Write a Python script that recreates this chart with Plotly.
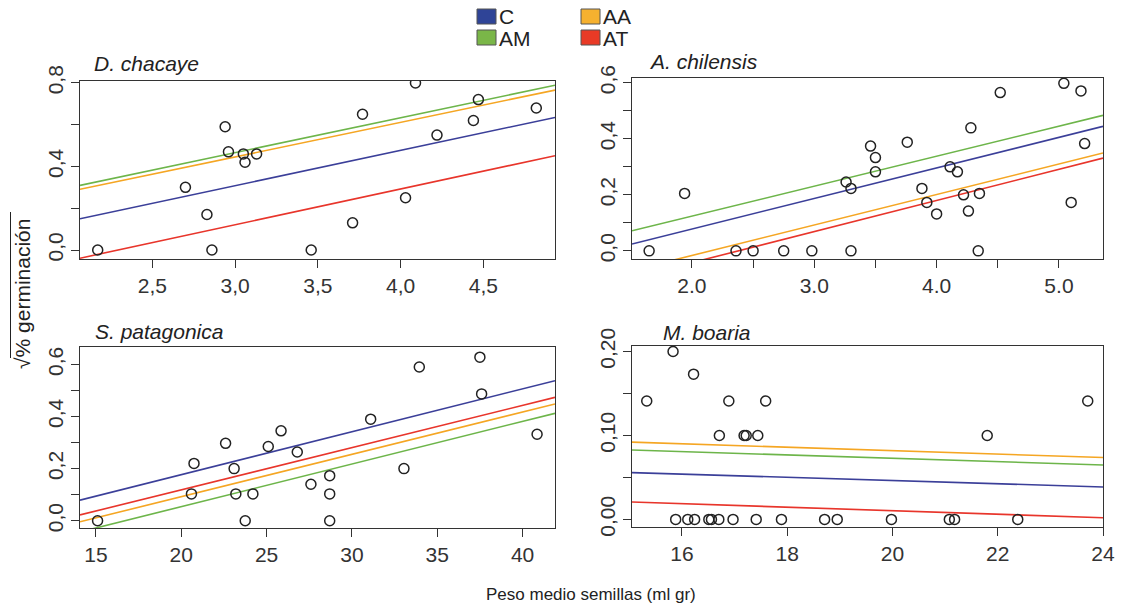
import plotly.graph_objects as go

W, H = 1128, 610

# ---------------- data ----------------
groups = ["C", "AA", "AM", "AT"]
group_colors = {"C": "#3b3f99", "AA": "#f5a623", "AM": "#6db54a", "AT": "#e8352b"}
legend_colors = {"C": "#2f4497", "AA": "#f6b12f", "AM": "#7ab648", "AT": "#e83a26"}

species = ["D. chacaye", "A. chilensis", "S. patagonica", "M. boaria"]

dc_x = [2.17, 2.70, 2.83, 2.86, 2.94, 2.96, 3.05, 3.06, 3.13, 3.46, 3.71, 3.77, 4.03, 4.09, 4.22, 4.44, 4.47, 4.82]
dc_y = [0.0, 0.30, 0.17, 0.0, 0.59, 0.47, 0.46, 0.42, 0.46, 0.0, 0.13, 0.65, 0.25, 0.80, 0.55, 0.62, 0.72, 0.68]

ac_x = [1.65, 1.94, 2.36, 2.50, 2.75, 2.98, 3.26, 3.30, 3.30, 3.46, 3.50, 3.50, 3.76, 3.88, 3.92, 4.00,
        4.11, 4.17, 4.22, 4.26, 4.28, 4.35, 4.34, 4.52, 5.04, 5.10, 5.18, 5.21]
ac_y = [0.0, 0.205, 0.0, 0.0, 0.0, 0.0, 0.246, 0.223, 0.0, 0.374, 0.333, 0.282, 0.388, 0.223, 0.173, 0.132,
        0.30, 0.282, 0.20, 0.142, 0.439, 0.205, 0.0, 0.565, 0.598, 0.173, 0.571, 0.383]

sp_x = [15.1, 20.6, 20.75, 22.6, 23.1, 23.2, 23.75, 24.2, 25.1, 25.85, 26.8, 27.6, 28.7, 28.7, 28.7,
        31.1, 33.05, 33.95, 37.5, 37.6, 40.85]
sp_y = [0.0, 0.103, 0.22, 0.297, 0.20, 0.103, 0.0, 0.103, 0.285, 0.345, 0.264, 0.14, 0.173, 0.103, 0.0,
        0.39, 0.20, 0.59, 0.628, 0.487, 0.332]

mb_x = [15.33, 15.83, 16.22, 16.89, 17.59, 16.71, 17.18, 17.22, 17.44, 21.80, 23.71,
        15.88, 16.11, 16.24, 16.51, 16.56, 16.70, 16.97, 17.41, 17.89, 18.71, 18.95, 19.98, 21.08, 21.18, 22.38]
mb_y = [0.141, 0.20, 0.173, 0.141, 0.141, 0.10, 0.10, 0.10, 0.10, 0.10, 0.141,
        0, 0, 0, 0, 0, 0, 0, 0, 0, 0, 0, 0, 0, 0, 0]

# fitted lines: (intercept, slope) per group, order C, AA, AM, AT
dc_fit = [(-0.199, 0.169), (-0.051, 0.1655), (-0.035, 0.167), (-0.392, 0.171)]
ac_fit = [(-0.140, 0.109), (-0.234, 0.1088), (-0.090, 0.107), (-0.264, 0.111)]
sp_fit = [(-0.153, 0.01648), (-0.233, 0.01626), (-0.2735, 0.01637), (-0.206, 0.01622)]
mb_fit = [(0.0845, -0.00191), (0.1229, -0.00205), (0.1128, -0.0020), (0.0522, -0.00209)]

# tick labels
dc_xticks = [2.5, 3.0, 3.5, 4.0, 4.5]
dc_xlabels = ["2,5", "3,0", "3,5", "4,0", "4,5"]
dc_yticks = [0.0, 0.2, 0.4, 0.6, 0.8]
dc_ylabels = ["0,0", "", "0,4", "", "0,8"]

ac_xticks = [2.0, 2.5, 3.0, 3.5, 4.0, 4.5, 5.0]
ac_xlabels = ["2.0", "", "3.0", "", "4.0", "", "5.0"]
ac_yticks = [0.0, 0.1, 0.2, 0.3, 0.4, 0.5, 0.6]
ac_ylabels = ["0,0", "", "0,2", "", "0,4", "", "0,6"]

sp_xticks = [15, 20, 25, 30, 35, 40]
sp_xlabels = ["15", "20", "25", "30", "35", "40"]
sp_yticks = [0.0, 0.1, 0.2, 0.3, 0.4, 0.5, 0.6]
sp_ylabels = ["0,0", "", "0,2", "", "0,4", "", "0,6"]

mb_xticks = [16, 18, 20, 22, 24]
mb_xlabels = ["16", "18", "20", "22", "24"]
mb_yticks = [0.0, 0.05, 0.10, 0.15, 0.20]
mb_ylabels = ["0,00", "", "0,10", "", "0,20"]

x_title = "Peso medio semillas (ml gr)"
y_title = "√% germinación"

# ---------------- layout geometry (pixels) ----------------
def px(x):
    return x / W

def py(y):
    return 1 - y / H

panels = [
    dict(name=species[0], x=dc_x, y=dc_y, fit=dc_fit, xt=dc_xticks, xl=dc_xlabels, yt=dc_yticks, yl=dc_ylabels,
         box=(80, 555, 81, 259), xr=[2.063, 4.933], yr=[-0.043, 0.809], title_pos=(92, 63)),
    dict(name=species[1], x=ac_x, y=ac_y, fit=ac_fit, xt=ac_xticks, xl=ac_xlabels, yt=ac_yticks, yl=ac_ylabels,
         box=(632, 1103, 78, 259), xr=[1.51, 5.36], yr=[-0.029, 0.617], title_pos=(647, 62)),
    dict(name=species[2], x=sp_x, y=sp_y, fit=sp_fit, xt=sp_xticks, xl=sp_xlabels, yt=sp_yticks, yl=sp_ylabels,
         box=(80, 555, 347, 528), xr=[14.07, 41.9], yr=[-0.028, 0.667], title_pos=(93, 331)),
    dict(name=species[3], x=mb_x, y=mb_y, fit=mb_fit, xt=mb_xticks, xl=mb_xlabels, yt=mb_yticks, yl=mb_ylabels,
         box=(632, 1103, 346, 527), xr=[15.05, 24.0], yr=[-0.009, 0.2065], title_pos=(661, 332)),
]

fig = go.Figure()
layout = dict(width=W, height=H, margin=dict(l=0, r=0, t=0, b=0, pad=0, autoexpand=False),
              paper_bgcolor="white", plot_bgcolor="white", showlegend=False, autosize=False)
annotations = []
shapes = []

FONT = "Liberation Sans, Arial, sans-serif"
tick_font = dict(family=FONT, size=21, color="#333333")
axis_common = dict(showline=True, mirror=True, linecolor="#333333", linewidth=1.2, ticks="outside",
                   ticklen=8, tickwidth=1.2, tickcolor="#333333", showgrid=False, zeroline=False,
                   tickfont=tick_font, tickmode="array", fixedrange=True, automargin=False)

for i, p in enumerate(panels, start=1):
    xa = "x" if i == 1 else f"x{i}"
    ya = "y" if i == 1 else f"y{i}"
    x0, x1, y0, y1 = p["box"]
    layout["xaxis" if i == 1 else f"xaxis{i}"] = dict(
        axis_common, domain=[px(x0), px(x1)], range=p["xr"], anchor=ya,
        tickvals=p["xt"], ticktext=p["xl"])
    layout["yaxis" if i == 1 else f"yaxis{i}"] = dict(
        axis_common, domain=[py(y1), py(y0)], range=p["yr"], anchor=xa,
        tickvals=p["yt"], ticktext=p["yl"], tickangle=-90)

    # fitted lines across the full axis range
    for g, (a, b) in zip(groups, p["fit"]):
        xs = p["xr"]
        fig.add_trace(go.Scatter(x=xs, y=[a + b * v for v in xs], mode="lines", xaxis=xa, yaxis=ya,
                                 line=dict(color=group_colors[g], width=1.6), hoverinfo="skip"))
    # points
    fig.add_trace(go.Scatter(x=p["x"], y=p["y"], mode="markers", xaxis=xa, yaxis=ya,
                             marker=dict(symbol="circle-open", size=10, color="#222222",
                                         line=dict(width=1.5, color="#222222"))))
    tx, ty = p["title_pos"]
    annotations.append(dict(text=f"<i>{p['name']}</i>", x=px(tx), y=py(ty), xref="paper", yref="paper",
                            xanchor="left", yanchor="middle", showarrow=False,
                            font=dict(family=FONT, size=21, color="#222222")))

# legend (squares + labels)
legend_pos = {"C": (477, 9), "AA": (581, 9), "AM": (477, 30), "AT": (581, 30)}
for g in groups:
    lx, ly = legend_pos[g]
    shapes.append(dict(type="rect", xref="paper", yref="paper", x0=px(lx), x1=px(lx + 19),
                       y0=py(ly + 15), y1=py(ly), fillcolor=legend_colors[g],
                       line=dict(color="#555555", width=1)))
    annotations.append(dict(text=g, x=px(lx + 20), y=py(ly + 8), xref="paper", yref="paper",
                            xanchor="left", yanchor="middle", showarrow=False,
                            font=dict(family=FONT, size=21, color="#222222")))

# axis titles
annotations.append(dict(text=x_title, x=px(591), y=py(594), xref="paper", yref="paper",
                        xanchor="center", yanchor="middle", showarrow=False,
                        font=dict(family=FONT, size=17, color="#222222")))
annotations.append(dict(text=y_title, x=px(22), y=py(294), xref="paper", yref="paper",
                        xanchor="center", yanchor="middle", showarrow=False, textangle=-90,
                        font=dict(family=FONT, size=21, color="#222222")))
# overline of the square root
shapes.append(dict(type="line", xref="paper", yref="paper", x0=px(10.5), x1=px(10.5), y0=py(212), y1=py(358),
                   line=dict(color="#222222", width=1)))

layout["annotations"] = annotations
layout["shapes"] = shapes
fig.update_layout(**layout)
fig.write_html("out.html", post_script="document.body.style.margin='0';")
